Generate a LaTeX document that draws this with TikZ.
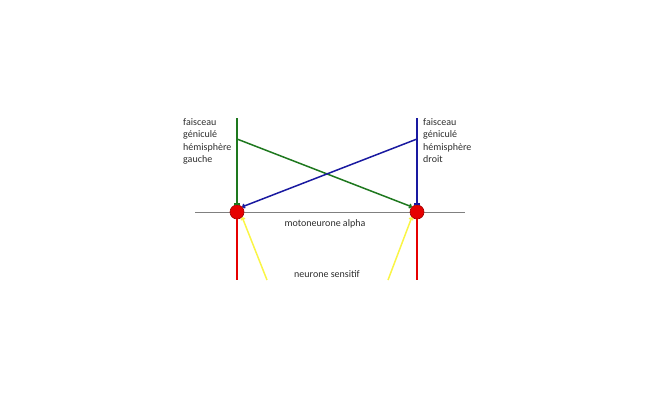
\documentclass[tikz,border=0pt]{standalone}
\usepackage{fontspec}
\setmainfont{Carlito}
\usetikzlibrary{arrows.meta}
\definecolor{vert}{RGB}{30,120,30}
\definecolor{bleu}{RGB}{25,25,160}
\definecolor{rouge}{RGB}{230,0,0}
\definecolor{jaune}{RGB}{250,245,70}
\definecolor{texte}{RGB}{45,45,45}
\tikzset{
  fibre/.style={line width=1.5pt},
  motoneurone/.style={circle, fill=rouge, draw=rouge!70!black, line width=0.6pt, minimum size=14pt, inner sep=0pt},
  etiquette/.style={font=\fontsize{10}{12.5}\selectfont, text=texte, align=left, inner sep=0pt}
}
\begin{document}
\begin{tikzpicture}[x=1pt, y=-1pt]
    \useasboundingbox (0,0) rectangle (655,400);

    % Ligne horizontale
    \draw[gray, line width=0.8pt] (195,212) -- (465,212);

    % Motoneurones
    \node[motoneurone] (mnG) at (237,212) {};
    \node[motoneurone] (mnD) at (417,212) {};

    \coordinate (topG) at (237,118);
    \coordinate (topD) at (417,118);
    \coordinate (brG) at (237,139);
    \coordinate (brD) at (417,139);

    % Faisceaux géniculés
    \draw[fibre, vert, -{Bar[width=6pt]}] (topG) -- (mnG.north);
    \draw[fibre, vert, -{To[length=3pt,width=5pt]}] (brG) -- (mnD.north west);
    \draw[fibre, bleu, -{Bar[width=6pt]}] (topD) -- (mnD.north);
    \draw[fibre, bleu, -{To[length=3pt,width=5pt]}] (brD) -- (mnG.north east);

    % Axones
    \coordinate (basG) at (237,280);
    \coordinate (basD) at (417,280);
    \draw[fibre, rouge] (mnG.south) -- (basG);
    \draw[fibre, rouge] (mnD.south) -- (basD);

    % Neurones sensitifs
    \coordinate (sensG) at (267,280);
    \coordinate (sensD) at (388,280);
    \draw[fibre, jaune, -{To[length=3pt,width=5pt]}] (sensG) -- (mnG.south east);
    \draw[fibre, jaune, -{To[length=3pt,width=5pt]}] (sensD) -- (mnD.south west);

    % Textes
    \node[etiquette, anchor=north west] (txtG) at (183,118) {faisceau\\géniculé\\hémisphère\\gauche};
    \node[etiquette, anchor=north west] (txtD) at (423,118) {faisceau\\géniculé\\hémisphère\\droit};
    \node[etiquette] (txtMN) at (325,224) {motoneurone alpha};
    \node[etiquette] (txtSens) at (327,274) {neurone sensitif};
\end{tikzpicture}
\end{document}
